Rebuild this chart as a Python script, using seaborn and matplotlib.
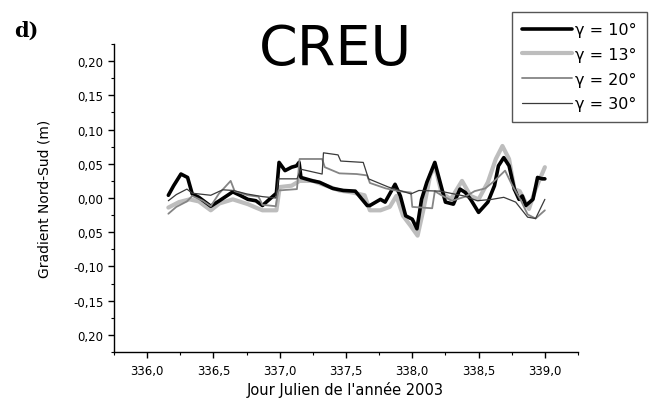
import matplotlib
matplotlib.use("Agg")
import matplotlib.pyplot as plt
from matplotlib.ticker import MultipleLocator, FuncFormatter
import numpy as np
import pandas as pd
import seaborn as sns

# jour julien / gradient for each elevation mask
day_10 = [336.16, 336.20, 336.255, 336.305, 336.34, 336.39, 336.48, 336.545, 336.646, 336.70,
          336.76, 336.82, 336.87, 336.91, 336.975, 336.995, 337.04, 337.09, 337.127, 337.146,
          337.16, 337.25, 337.30, 337.40, 337.48, 337.57, 337.66, 337.68, 337.76, 337.795,
          337.87, 337.91, 337.95, 338.00, 338.035, 338.07, 338.11, 338.17, 338.21, 338.25,
          338.31, 338.36, 338.40, 338.44, 338.50, 338.57, 338.62, 338.65, 338.69, 338.73,
          338.77, 338.805, 338.83, 338.856, 338.91, 338.945, 338.98, 339.00]
grad_10 = [0.004, 0.018, 0.035, 0.030, 0.006, 0.001, -0.012, -0.004, 0.009, 0.004,
           -0.002, -0.004, -0.011, -0.004, 0.007, 0.052, 0.040, 0.045, 0.047, 0.052,
           0.030, 0.025, 0.023, 0.014, 0.011, 0.010, -0.011, -0.011, -0.002, -0.006,
           0.020, 0.003, -0.026, -0.031, -0.045, -0.002, 0.023, 0.052, 0.023, -0.006,
           -0.009, 0.013, 0.008, -0.002, -0.021, -0.006, 0.018, 0.047, 0.059, 0.047,
           0.013, -0.002, 0.003, -0.011, -0.002, 0.030, 0.028, 0.028]

day_13 = [336.16, 336.24, 336.32, 336.39, 336.48, 336.545, 336.646, 336.76, 336.82, 336.87,
          336.975, 337.00, 337.09, 337.15, 337.25, 337.35, 337.45, 337.55, 337.64, 337.68,
          337.76, 337.83, 337.88, 337.93, 337.985, 338.04, 338.085, 338.135, 338.17, 338.22,
          338.29, 338.375, 338.44, 338.50, 338.57, 338.63, 338.68, 338.73, 338.77, 338.81,
          338.88, 338.93, 339.00]
grad_13 = [-0.014, -0.006, -0.002, -0.005, -0.018, -0.008, -0.002, -0.009, -0.014, -0.018,
           -0.018, 0.016, 0.018, 0.025, 0.025, 0.018, 0.011, 0.008, 0.004, -0.018,
           -0.018, -0.013, 0.003, -0.026, -0.040, -0.055, -0.016, 0.033, 0.047, 0.008,
           -0.002, 0.025, 0.003, -0.002, 0.023, 0.057, 0.076, 0.057, 0.013, 0.010,
           -0.016, 0.013, 0.045]

day_20 = [336.16, 336.22, 336.30, 336.34, 336.42, 336.48, 336.54, 336.63, 336.66, 336.76,
          336.84, 336.87, 336.97, 336.99, 337.13, 337.15, 337.32, 337.34, 337.45, 337.58,
          337.66, 337.68, 337.80, 337.90, 337.99, 338.00, 338.15, 338.17, 338.22, 338.30,
          338.40, 338.47, 338.55, 338.62, 338.70, 338.75, 338.82, 338.87, 338.93, 339.00]
grad_20 = [-0.023, -0.013, -0.005, 0.003, -0.004, -0.012, 0.006, 0.025, 0.010, 0.004,
           0.002, -0.010, -0.012, 0.011, 0.013, 0.057, 0.057, 0.045, 0.036, 0.035,
           0.033, 0.022, 0.014, 0.010, 0.008, -0.013, -0.015, 0.010, 0.004, -0.004,
           0.002, 0.010, 0.014, 0.025, 0.040, 0.020, -0.004, -0.024, -0.030, -0.018]

day_30 = [336.16, 336.22, 336.30, 336.34, 336.48, 336.57, 336.65, 336.75, 336.87, 336.97,
          336.99, 337.13, 337.16, 337.32, 337.33, 337.44, 337.46, 337.63, 337.67, 337.82,
          337.99, 338.05, 338.21, 338.39, 338.49, 338.60, 338.69, 338.78, 338.87, 338.93,
          339.00]
grad_30 = [-0.004, 0.005, 0.013, 0.007, 0.004, 0.012, 0.011, 0.006, 0.002, 0.000,
           0.028, 0.028, 0.042, 0.035, 0.066, 0.063, 0.054, 0.052, 0.028, 0.016,
           0.006, 0.011, 0.010, 0.003, -0.004, -0.002, 0.001, -0.006, -0.028, -0.030,
           -0.002]

labels = ["\u03b3 = 10\u00b0", "\u03b3 = 13\u00b0", "\u03b3 = 20\u00b0", "\u03b3 = 30\u00b0"]
ytick_vals = [0.20, 0.15, 0.10, 0.05, 0.00, -0.05, -0.10, -0.15, -0.20]
ytick_text = ["0,20", "0,15", "0,10", "0,05", "0,00", "0,05", "-0,10", "-0,15", "0,20"]

df = pd.concat([
    pd.DataFrame({"jour": day_10, "grad": grad_10, "gamma": labels[0]}),
    pd.DataFrame({"jour": day_13, "grad": grad_13, "gamma": labels[1]}),
    pd.DataFrame({"jour": day_20, "grad": grad_20, "gamma": labels[2]}),
    pd.DataFrame({"jour": day_30, "grad": grad_30, "gamma": labels[3]}),
])

sns.set_style("ticks")
plt.rcParams["font.family"] = ["DejaVu Sans"]
plt.rcParams.update({"text.color": "black", "axes.labelcolor": "black",
                     "xtick.color": "black", "ytick.color": "black"})

fig = plt.figure(figsize=(6.57, 4.02), dpi=100)
ax = fig.add_axes([114 / 657, 1 - 353 / 402, 464 / 657, 308 / 402])

styles = {
    labels[1]: ("#bdbdbd", 3.0),
    labels[0]: ("black", 2.6),
    labels[2]: ("#858585", 1.3),
    labels[3]: ("#3a3a3a", 0.9),
}
handles = {}
for lab in [labels[1], labels[0], labels[2], labels[3]]:
    col, lw = styles[lab]
    sub = df[df["gamma"] == lab]
    sns.lineplot(data=sub, x="jour", y="grad", ax=ax, color=col, lw=lw,
                 sort=False, estimator=None, label=lab, legend=False)
    handles[lab] = ax.lines[-1]

ax.set_xlim(335.75, 339.25)
ax.set_ylim(-0.225, 0.225)
ax.xaxis.set_major_locator(MultipleLocator(0.5))
ax.xaxis.set_minor_locator(MultipleLocator(0.25))
ax.xaxis.set_major_formatter(FuncFormatter(lambda v, p: f"{v:.1f}".replace(".", ",")))
ax.set_yticks(ytick_vals)
ax.set_yticklabels(ytick_text)
ax.yaxis.set_minor_locator(MultipleLocator(0.025))

for s in ["top", "right"]:
    ax.spines[s].set_visible(False)
for s in ["left", "bottom"]:
    ax.spines[s].set_color("black")
    ax.spines[s].set_linewidth(1.0)

ax.tick_params(which="major", length=4.5, width=1.0, color="black",
               labelcolor="black", labelsize=8.5, pad=3)
ax.tick_params(which="minor", length=2.5, width=0.8, color="black")
ax.tick_params(axis="x", pad=4)

ax.set_xlabel("Jour Julien de l'ann\u00e9e 2003", fontsize=10.5, color="black")
ax.set_ylabel("Gradient Nord-Sud (m)", fontsize=10, color="black")
ax.xaxis.set_label_coords(0.498, -0.095)
ax.yaxis.set_label_coords(-0.135, 0.5)

fig.text(336 / 657, 1 - 50 / 402, "CREU", fontsize=40, color="black",
         ha="center", va="center")
fig.text(26 / 657, 1 - 31 / 402, "d)", fontsize=15, fontweight="bold", color="black",
         family="DejaVu Serif", ha="center", va="center")

leg = fig.legend([handles[l] for l in labels], labels, loc="upper right",
                 bbox_to_anchor=(647 / 657, 1 - 13 / 402), fontsize=11.5,
                 frameon=True, fancybox=False, shadow=False, framealpha=1,
                 handlelength=3.1, handletextpad=0.2, labelspacing=0.6,
                 borderpad=0.65, borderaxespad=0)
leg.get_frame().set_edgecolor("#555555")
leg.get_frame().set_linewidth(1.0)
for t in leg.get_texts():
    t.set_color("black")

fig.savefig("out.png", dpi=100)
